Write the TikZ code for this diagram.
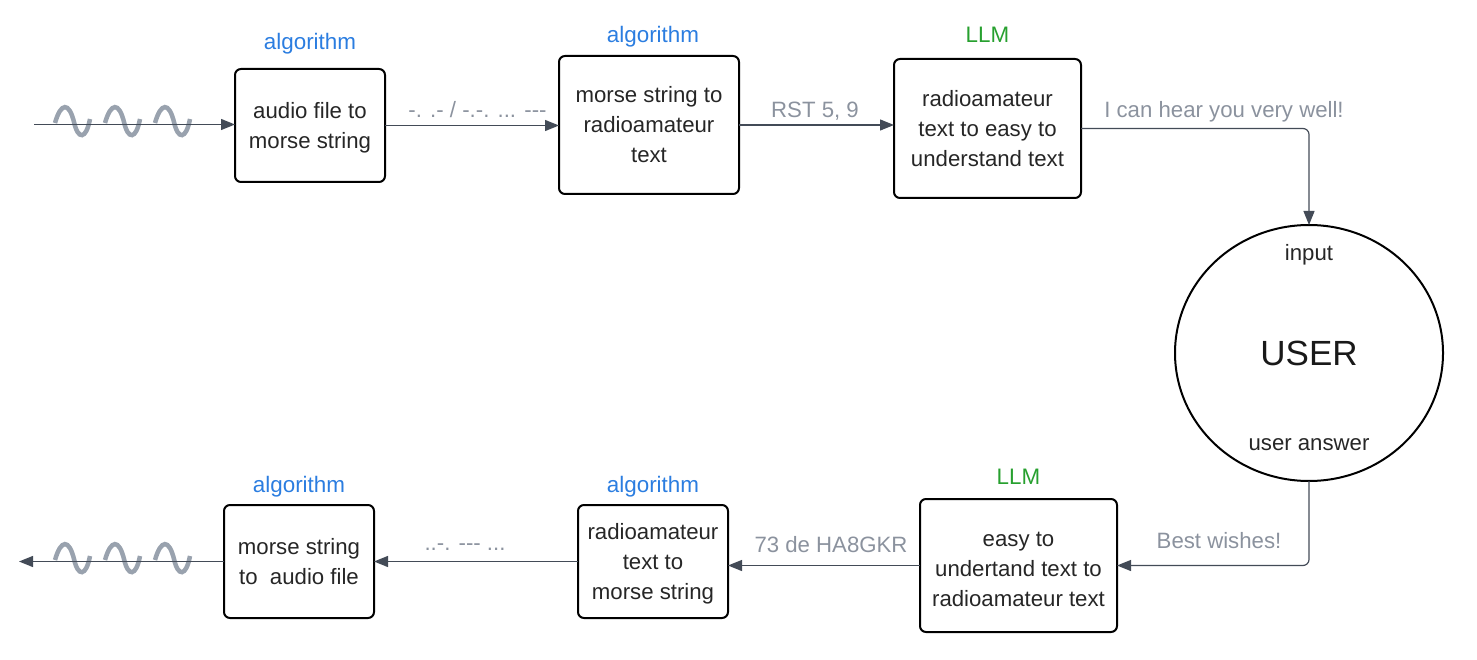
\documentclass[tikz,border=0pt]{standalone}
\usepackage{fontspec}
\setmainfont{Liberation Sans}
\usetikzlibrary{arrows.meta,shapes.geometric}
\definecolor{flowgray}{HTML}{434B57}
\definecolor{notegray}{HTML}{8B929E}
\definecolor{wavegray}{HTML}{99A2AE}
\definecolor{algoblue}{HTML}{2B7DE0}
\definecolor{llmgreen}{HTML}{27A02F}
\begin{document}
\begin{tikzpicture}[x=1pt,y=-1pt,inner sep=0pt,outer sep=0pt,
txt/.style={font=\fontsize{22.2}{30}\selectfont,text=black!85},
procblock/.style={draw=black,txt,rectangle,rounded corners=6pt,line width=2pt,align=center},
flow/.style={draw=flowgray,line width=1.2pt,-{Triangle[length=14pt,width=11pt]}},
note/.style={font=\fontsize{22.2}{26}\selectfont,text=notegray},
algo/.style={font=\fontsize{22.4}{26}\selectfont,text=algoblue},
llm/.style={font=\fontsize{22.4}{26}\selectfont,text=llmgreen},
wave/.style={draw=wavegray,line width=4.5pt}]
\useasboundingbox (0,0) rectangle (1477,660);
% sound waves
\foreach \x in {55,105,155} {
\draw[wave] (\x,123) .. controls (\x+6,102) and (\x+14,102) .. (\x+19,122) .. controls (\x+23,140) and (\x+31,140) .. (\x+35,119);
\draw[wave] (\x,560) .. controls (\x+6,539) and (\x+14,539) .. (\x+19,559) .. controls (\x+23,577) and (\x+31,577) .. (\x+35,556);
}
% top row
\draw (310,125.5) node[procblock,minimum width=150pt,minimum height=113pt] (A) {\rule{0pt}{21pt}audio file to\\morse string};
\draw (649,125) node[procblock,minimum width=180pt,minimum height=138pt] (B) {morse string to\\radioamateur\\text};
\draw (987.5,128.5) node[procblock,minimum width=187pt,minimum height=139pt] (C) {radioamateur\\text to easy to\\understand text};
% user
\draw (1309,353) node[draw=black,ellipse,line width=2pt,minimum width=268pt,minimum height=256pt,font=\fontsize{35}{40}\selectfont,text=black!90] (U) {USER};
\draw (1309,255) node[txt] (Uin) {input};
\draw (1309,445) node[txt] (Uout) {user answer};
% bottom row
\draw (1018.5,565.5) node[procblock,minimum width=197pt,minimum height=133pt] (D) {\rule{0pt}{22pt}easy to\\undertand text to\\radioamateur text};
\draw (653,561.5) node[procblock,minimum width=150pt,minimum height=113pt] (E) {\rule{0pt}{21pt}radioamateur\\text to\\morse string};
\draw (299,561.5) node[procblock,minimum width=150pt,minimum height=113pt] (F) {morse string\\to\ \ audio file};
% titles
\draw (310,44) node[algo] (Atitle) {algorithm};
\draw (653,37) node[algo] (Btitle) {algorithm};
\draw (987.5,35) node[llm] (Ctitle) {LLM};
\draw (1018.5,477) node[llm] (Dtitle) {LLM};
\draw (653,487) node[algo] (Etitle) {algorithm};
\draw (299,487) node[algo] (Ftitle) {algorithm};
% connectors
\coordinate (In) at (34,124.5);
\coordinate (Out) at (19,561.5);
\draw[flow] (In) -- (In -| A.west);
\draw[flow] (A.east) -- (A.east -| B.west);
\draw[flow] (B.east) -- (B.east -| C.west);
\draw[flow,rounded corners=6pt] (C.east) -| (U.north);
\draw[flow,rounded corners=6pt] (U.south) |- (D.east);
\draw[flow] (D.west) -- (D.west -| E.east);
\draw[flow] (E.west) -- (F.east);
\draw[flow] (F.west) -- (Out);
% labels
\draw (477.5,110) node[note] (Lab1) {-. .- / -.-. ... -{}-{}-};
\draw (815,111) node[note] (Lab2) {RST 5, 9};
\draw (1224,112) node[note] (Lab3) {I can hear you very well!};
\draw (1219,541) node[note] (Lab4) {Best wishes!};
\draw (831,545) node[note] (Lab5) {73 de HA8GKR};
\draw (465,547) node[note] (Lab6) {..-. -{}-{}- ...};
\end{tikzpicture}
\end{document}
